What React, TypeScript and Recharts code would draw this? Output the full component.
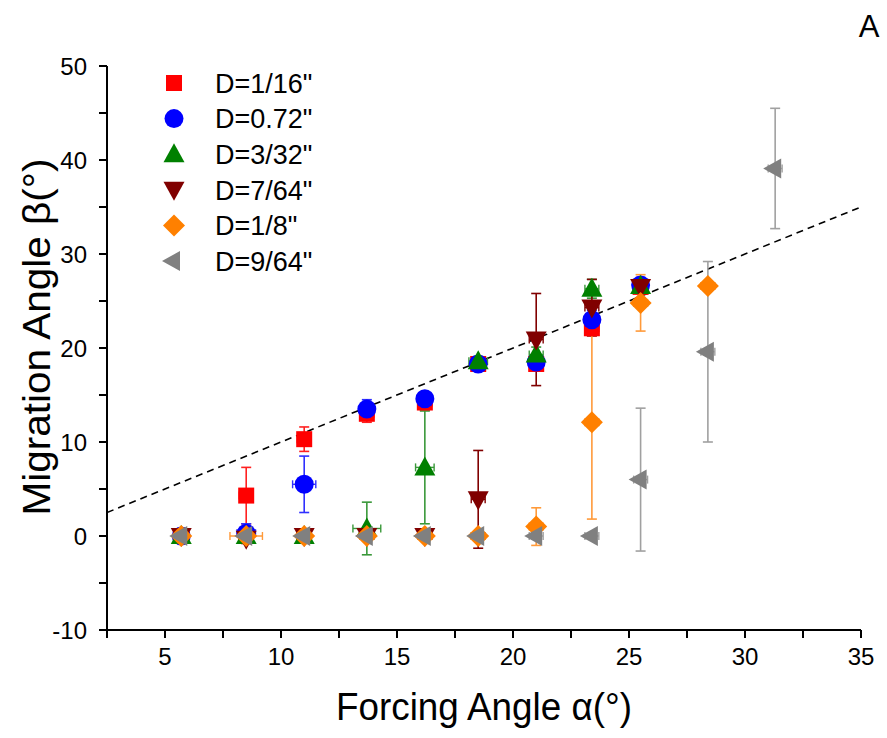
import React from 'react';
import { ScatterChart, Scatter, XAxis, YAxis, ErrorBar, ReferenceLine, Label } from 'recharts';

// forcing angle α (deg) for each measurement column
const ALPHA = [5.7, 8.5, 11.0, 13.7, 16.2, 18.5, 21.0, 23.4, 25.5, 28.4, 31.3];

// migration angle β (deg) and its spread, one list per particle diameter
const BETA_1_16 = [0, 4.3, 10.3, 13.0, 14.2, 18.3, 18.3, 22.1, 26.5];
const ERR_1_16 = [0.4, 3.0, 1.3, 0.9, 0.8, 0.5, 0.6, 0.8, 0.6];
const XERR_1_16 = [0.3, 0.3, 0.3, 0.3, 0.3, 0.3, 0.3, 0.3, 0.3];

const BETA_072 = [0, 0.3, 5.5, 13.5, 14.6, 18.3, 18.5, 23.0, 26.7];
const ERR_072 = [0.4, 1.0, 3.0, 1.0, 0.7, 0.5, 0.8, 1.0, 0.8];
const XERR_072 = [0.3, 0.4, 0.5, 0.3, 0.3, 0.3, 0.3, 0.3, 0.3];

const BETA_3_32 = [0, 0, 0, 0.8, 7.3, 18.6, 19.3, 26.3, 26.6];
const ERR_3_32 = [0.3, 0.3, 0.3, 2.8, 6.0, 0.5, 0.8, 1.0, 0.6];
const XERR_3_32 = [0.3, 0.3, 0.3, 0.6, 0.4, 0.4, 0.3, 0.3, 0.3];

const BETA_7_64 = [0, -0.3, 0, 0, 0, 3.9, 20.9, 24.3, 26.5];
const ERR_7_64 = [0.4, 0.5, 0.4, 0.4, 0.4, 5.2, 4.9, 3.0, 0.6];
const XERR_7_64 = [0.3, 0.3, 0.3, 0.3, 0.3, 0.3, 0.3, 0.3, 0.3];

const BETA_1_8 = [0, 0, 0, 0, 0, 0, 1.0, 12.1, 24.8, 26.6];
const ERR_1_8 = [0.4, 0.3, 0.4, 0.4, 0.4, 0.4, 2.0, 10.3, 3.0, 0];
const XERR_1_8 = [0.3, 0.7, 0.3, 0.3, 0.3, 0.3, 0.3, 0.3, 0.3, 0.3];

const BETA_9_64 = [0, 0, 0, 0, 0, 0, 0, 0, 6.0, 19.6, 39.1];
const ERR_9_64 = [0.3, 0.3, 0.3, 0.3, 0.3, 0.3, 0.3, 0.3, 7.6, 9.6, 6.4];
const XERR_9_64 = [0.3, 0.3, 0.3, 0.3, 0.3, 0.3, 0.3, 0.3, 0.3, 0.3, 0.3];

const X_TICKS = [2.5, 5, 7.5, 10, 12.5, 15, 17.5, 20, 22.5, 25, 27.5, 30, 32.5, 35];
const Y_TICKS = [-10, -5, 0, 5, 10, 15, 20, 25, 30, 35, 40, 45, 50];

// dashed guide β = α
const GUIDE = [{ x: 2.5, y: 2.5 }, { x: 35, y: 35 }];

const FONT = 'Arial, "Liberation Sans", Helvetica, sans-serif';

const toPoints = (beta: number[], ey: number[], ex: number[]) =>
  beta.map((b, i) => ({ x: ALPHA[i], y: b, ey: ey[i], ex: ex[i] }));

type Shape = 'square' | 'circle' | 'up' | 'down' | 'diamond' | 'left';

function Marker({ cx, cy, kind, fill }: { cx: number; cy: number; kind: Shape; fill: string }) {
  switch (kind) {
    case 'square':
      return <rect x={cx - 8} y={cy - 8} width={16} height={16} fill={fill} />;
    case 'circle':
      return <circle cx={cx} cy={cy} r={9.5} fill={fill} />;
    case 'up':
      return <polygon points={`${cx},${cy - 11} ${cx + 10.5},${cy + 8} ${cx - 10.5},${cy + 8}`} fill={fill} />;
    case 'down':
      return <polygon points={`${cx},${cy + 11} ${cx + 10.5},${cy - 8} ${cx - 10.5},${cy - 8}`} fill={fill} />;
    case 'diamond':
      return <polygon points={`${cx},${cy - 11} ${cx + 11},${cy} ${cx},${cy + 11} ${cx - 11},${cy}`} fill={fill} />;
    default:
      return <polygon points={`${cx - 12},${cy} ${cx + 6},${cy - 10} ${cx + 6},${cy + 10}`} fill={fill} />;
  }
}

const SERIES: { name: string; kind: Shape; color: string; err: string; data: ReturnType<typeof toPoints> }[] = [
  { name: 'D=1/16"', kind: 'square', color: '#ff0000', err: '#ff2020', data: toPoints(BETA_1_16, ERR_1_16, XERR_1_16) },
  { name: 'D=0.72"', kind: 'circle', color: '#0000ff', err: '#3030ff', data: toPoints(BETA_072, ERR_072, XERR_072) },
  { name: 'D=3/32"', kind: 'up', color: '#008000', err: '#3a983a', data: toPoints(BETA_3_32, ERR_3_32, XERR_3_32) },
  { name: 'D=7/64"', kind: 'down', color: '#800000', err: '#800000', data: toPoints(BETA_7_64, ERR_7_64, XERR_7_64) },
  { name: 'D=1/8"', kind: 'diamond', color: '#ff8000', err: '#ff9a3a', data: toPoints(BETA_1_8, ERR_1_8, XERR_1_8) },
  { name: 'D=9/64"', kind: 'left', color: '#808080', err: '#a0a0a0', data: toPoints(BETA_9_64, ERR_9_64, XERR_9_64) },
];

const XTick = (props: any) => {
  const { x, y, payload } = props;
  if (payload.value % 5 !== 0) return null;
  return (
    <text x={x} y={y} dy="0.72em" textAnchor="middle" fontSize={24} fontFamily={FONT} fill="#000">
      {payload.value}
    </text>
  );
};

const YTick = (props: any) => {
  const { x, y, payload } = props;
  if (payload.value % 10 !== 0) return null;
  return (
    <text x={x} y={y} dy="0.36em" textAnchor="end" fontSize={24} fontFamily={FONT} fill="#000">
      {payload.value}
    </text>
  );
};

const LEGEND_TOP = 83;
const LEGEND_STEP = 35.6;

export default function App() {
  return (
    <div style={{ position: 'absolute', left: 0, top: 0, width: 887, height: 738, background: '#fff' }}>
      <ScatterChart width={887} height={738} margin={{ top: 66, right: 26, left: 0, bottom: 0 }}>
        <XAxis
          type="number"
          dataKey="x"
          domain={[2.5, 35]}
          ticks={X_TICKS}
          allowDataOverflow
          height={108}
          tickSize={8}
          tickMargin={10}
          axisLine={{ stroke: '#000', strokeWidth: 2 }}
          tickLine={{ stroke: '#000', strokeWidth: 2 }}
          tick={<XTick />}
        >
          <Label
            content={() => (
              <text x={484} y={720} textAnchor="middle" fontSize={38} fontFamily={FONT} fill="#000"
                textLength={296} lengthAdjust="spacingAndGlyphs">
                Forcing Angle α(°)
              </text>
            )}
          />
        </XAxis>
        <YAxis
          type="number"
          dataKey="y"
          domain={[-10, 50]}
          ticks={Y_TICKS}
          allowDataOverflow
          width={107}
          tickSize={8}
          tickMargin={12}
          axisLine={{ stroke: '#000', strokeWidth: 2 }}
          tickLine={{ stroke: '#000', strokeWidth: 2 }}
          tick={<YTick />}
        >
          <Label
            content={() => (
              <text x={50} y={337} transform="rotate(-90 50 337)" textAnchor="middle" fontSize={38}
                fontFamily={FONT} fill="#000" textLength={357} lengthAdjust="spacingAndGlyphs">
                Migration Angle β(°)
              </text>
            )}
          />
        </YAxis>
        <ReferenceLine segment={GUIDE} stroke="#000" strokeWidth={1.6} strokeDasharray="7 5" ifOverflow="hidden" />
        {SERIES.map((s) => (
          <Scatter
            key={s.name}
            name={s.name}
            data={s.data}
            isAnimationActive={false}
            shape={(p: any) => <Marker cx={p.cx} cy={p.cy} kind={s.kind} fill={s.color} />}
          >
            <ErrorBar dataKey="ey" direction="y" width={5} stroke={s.err} strokeWidth={1.6} />
            <ErrorBar dataKey="ex" direction="x" width={4} stroke={s.err} strokeWidth={1.4} />
          </Scatter>
        ))}
      </ScatterChart>

      <svg width={887} height={738} style={{ position: 'absolute', left: 0, top: 0, pointerEvents: 'none' }}>
        {SERIES.map((s, i) => (
          <g key={s.name}>
            <Marker cx={174} cy={LEGEND_TOP + i * LEGEND_STEP} kind={s.kind} fill={s.color} />
            <text x={215} y={LEGEND_TOP + i * LEGEND_STEP} dy="0.36em" fontSize={27} fontFamily={FONT} fill="#000">
              {s.name}
            </text>
          </g>
        ))}
        <text x={869} y={37} textAnchor="middle" fontSize={31} fontFamily={FONT} fill="#000">A</text>
      </svg>
    </div>
  );
}
